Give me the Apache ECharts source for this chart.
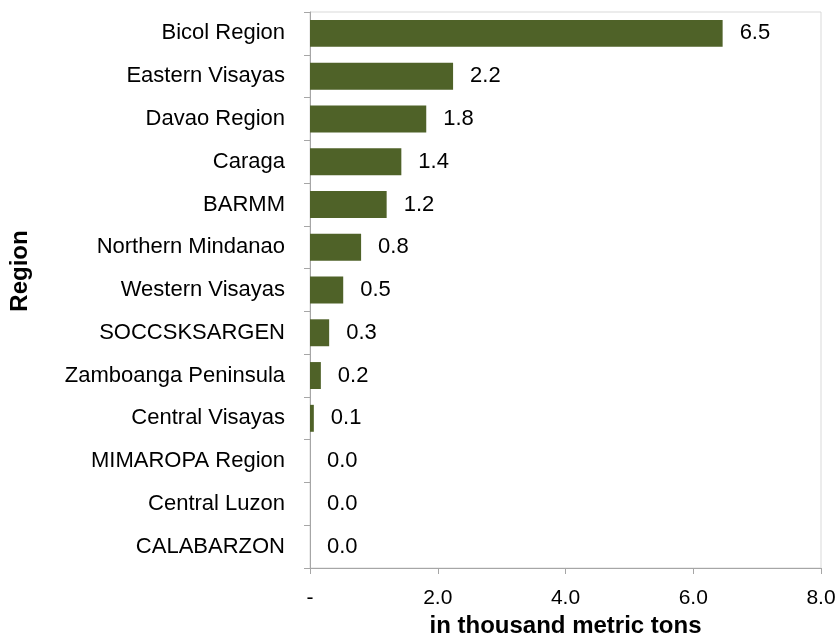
<!DOCTYPE html>
<html>
<head>
<meta charset="utf-8">
<script src="https://cdn.jsdelivr.net/npm/echarts@6/dist/echarts.min.js"></script>
<style>
  html, body { margin: 0; padding: 0; background: #fff; }
  #main { width: 837px; height: 637px; }
</style>
</head>
<body>
<div id="main"></div>
<script>
// regions, top to bottom
var regions = [
  "Bicol Region", "Eastern Visayas", "Davao Region", "Caraga", "BARMM",
  "Northern Mindanao", "Western Visayas", "SOCCSKSARGEN", "Zamboanga Peninsula",
  "Central Visayas", "MIMAROPA Region", "Central Luzon", "CALABARZON"
];
// thousand metric tons
var volumes = [6.46, 2.24, 1.82, 1.43, 1.2, 0.8, 0.52, 0.3, 0.17, 0.06, 0.0, 0.0, 0.0];

var font = "'Liberation Sans', Arial, sans-serif";
var chart = echarts.init(document.getElementById("main"));

var option = {
  animation: false,
  grid: {
    left: 310, right: 16, top: 12, bottom: 69,
    outerBoundsMode: "none",
    containLabel: false,
    show: true, borderColor: "#d9d9d9", borderWidth: 1
  },
  xAxis: {
    type: "value",
    min: 0, max: 8, interval: 2,
    name: "in thousand metric tons",
    nameLocation: "middle",
    nameGap: 44,
    nameTextStyle: { fontFamily: font, fontSize: 24, fontWeight: "bold", color: "#000" },
    axisLine: { show: true, lineStyle: { color: "#a6a6a6" } },
    axisTick: { show: true, length: 6, lineStyle: { color: "#a6a6a6" } },
    splitLine: { show: false },
    axisLabel: {
      fontFamily: font, fontSize: 21, color: "#000", margin: 20,
      formatter: function (v) { return v === 0 ? "-" : v.toFixed(1); }
    }
  },
  yAxis: {
    type: "category",
    data: regions,
    inverse: true,
    axisLine: { show: true, lineStyle: { color: "#a6a6a6" } },
    axisTick: { show: true, length: 6, lineStyle: { color: "#a6a6a6" } },
    axisLabel: { fontFamily: font, fontSize: 22, color: "#000", margin: 25 }
  },
  graphic: [{
    type: "text",
    x: 20, y: 271,
    rotation: Math.PI / 2,
    style: {
      text: "Region", fontFamily: font, fontSize: 24, fontWeight: "bold",
      fill: "#000", align: "center", verticalAlign: "middle"
    }
  }],
  series: [{
    type: "bar",
    data: volumes,
    barWidth: "63%",
    itemStyle: { color: "#4f6228" },
    label: {
      show: true, position: "right", distance: 17,
      fontFamily: font, fontSize: 22, color: "#000",
      formatter: function (p) { return p.value.toFixed(1); }
    }
  }]
};
chart.setOption(option);
</script>
</body>
</html>
